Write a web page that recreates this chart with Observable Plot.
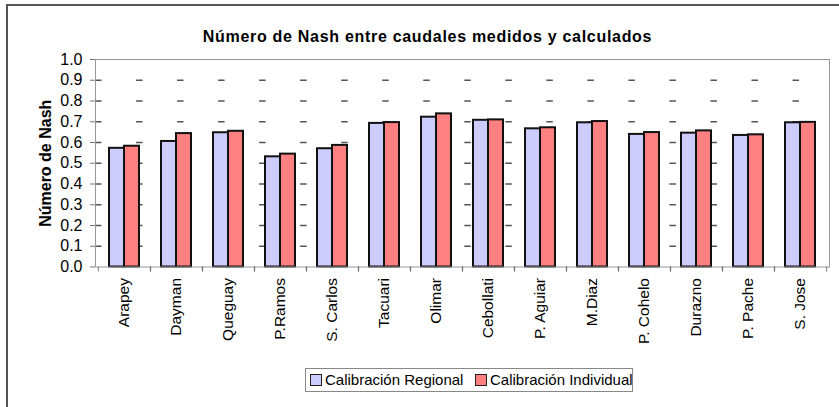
<!DOCTYPE html>
<html><head><meta charset="utf-8">
<script src="https://cdn.jsdelivr.net/npm/d3@7"></script>
<script src="https://cdn.jsdelivr.net/npm/@observablehq/plot@0.6"></script>
<style>
html,body{margin:0;padding:0;background:#fff;overflow:hidden;width:839px;height:407px;}
body{font-family:"Liberation Sans",Arial,sans-serif;position:relative;}
#frame{position:absolute;left:6px;top:4px;width:900px;height:500px;border:2px solid #555;box-sizing:border-box;}
#title{position:absolute;left:0;width:855px;top:28px;line-height:18px;text-align:center;font-weight:bold;font-size:16px;letter-spacing:0.7px;color:#000;}
#chart{position:absolute;left:0;top:0;}
#legend{position:absolute;left:305px;top:368px;width:328px;height:24px;border:1px solid #888;box-sizing:border-box;font-size:15px;color:#000;}
#legend .item{position:absolute;top:0;height:22px;line-height:22px;white-space:nowrap;}
#legend .sw{display:inline-block;width:12px;height:12px;border:1.5px solid #222;box-sizing:border-box;vertical-align:-1px;margin-right:3px;}
</style>
</head><body>
<div id="frame"></div>
<div id="title">Número de Nash entre caudales medidos y calculados</div>
<div id="chart"></div>
<div id="legend"></div>
<script>
const categories = ["Arapey","Dayman","Queguay","P.Ramos","S. Carlos","Tacuari","Olimar","Cebollati","P. Aguiar","M.Diaz","P. Cohelo","Durazno","P. Pache","S. Jose"];
const regional = [0.572,0.605,0.647,0.531,0.570,0.692,0.722,0.707,0.666,0.695,0.639,0.645,0.634,0.695];
const individual = [0.582,0.643,0.654,0.544,0.586,0.696,0.738,0.709,0.671,0.701,0.648,0.656,0.637,0.697];
const seriesNames = ["Calibración Regional","Calibración Individual"];
const seriesColors = ["#CCCCFF","#FF8080"];
const yTicks = [0.0,0.1,0.2,0.3,0.4,0.5,0.6,0.7,0.8,0.9,1.0];
const yLabel = "Número de Nash";

const reg = categories.map((c,i)=>({cat:c, value:regional[i]}));
const ind = categories.map((c,i)=>({cat:c, value:individual[i]}));
const fmt = d3.format(".1f");
const half = 734/14/2;

const plot = Plot.plot({
  width: 839, height: 360,
  marginLeft: 95, marginRight: 10, marginTop: 59, marginBottom: 93.5,
  style: {fontFamily: "'Liberation Sans', Arial, sans-serif", fontSize: "15px", color: "#000", background: "transparent"},
  x: {domain: categories, paddingInner: 0.427, paddingOuter: 0.2135, align: 0.5},
  y: {domain: [0, 1]},
  marks: [
    Plot.gridY(yTicks.filter(v => v > 0 && v < 1), {stroke: "#555", strokeOpacity: 1, strokeWidth: 1.3, strokeDasharray: "6.5,34.53"}),
    Plot.barY(reg, {x: "cat", y: "value", fill: seriesColors[0], stroke: "#111", strokeWidth: 2, insetRight: 15}),
    Plot.barY(ind, {x: "cat", y: "value", fill: seriesColors[1], stroke: "#111", strokeWidth: 2, insetLeft: 15}),
    Plot.frame({stroke: "#999"}),
    Plot.axisY(yTicks, {tickSize: 5, tickPadding: 8, tickFormat: fmt, stroke: "#777", label: null, fontSize: 16}),
    Plot.text([yLabel], {frameAnchor: "left", textAnchor: "middle", dx: -50, rotate: -90, fontWeight: "bold", fontSize: 16}),
    Plot.axisX({tickSize: 0, tickPadding: 11, tickRotate: -90, label: null, fontSize: 15.5}),
    Plot.axisX({tickSize: 5, tickFormat: () => "", dx: -half, stroke: "#777", label: null}),
    Plot.axisX({tickSize: 5, tickFormat: () => "", dx: half, stroke: "#777", label: null})
  ]
});
document.getElementById("chart").appendChild(plot);

const legend = document.getElementById("legend");
const lefts = [4, 169];
seriesNames.forEach((name, i) => {
  const item = document.createElement("div");
  item.className = "item";
  item.style.left = lefts[i] + "px";
  const sw = document.createElement("span");
  sw.className = "sw";
  sw.style.background = seriesColors[i];
  item.appendChild(sw);
  item.appendChild(document.createTextNode(name));
  legend.appendChild(item);
});
</script>
</body></html>
